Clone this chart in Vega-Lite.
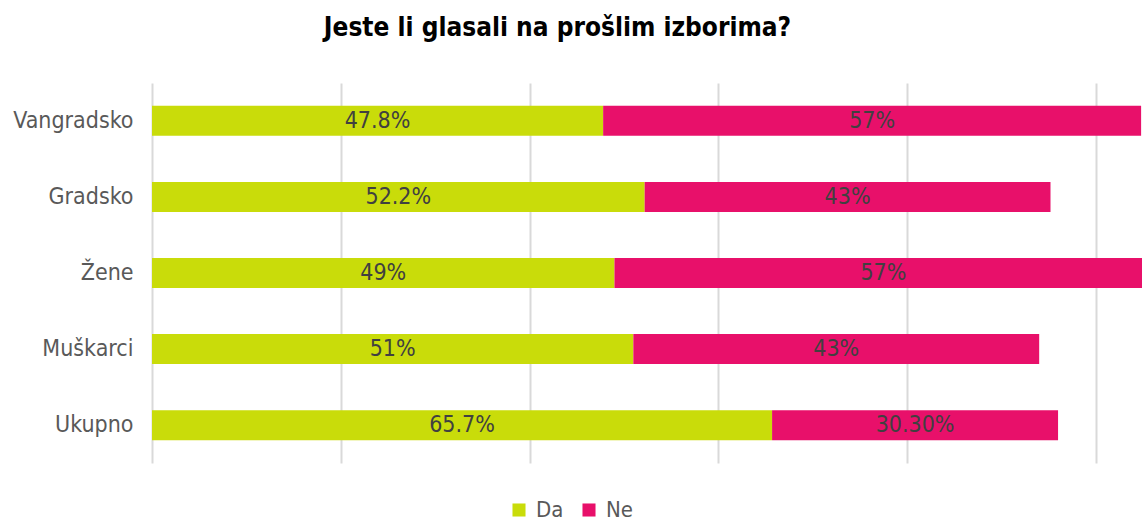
{
  "$schema": "https://vega.github.io/schema/vega-lite/v6.json",
  "autosize": {"type": "none"},
  "width": 991,
  "height": 380,
  "padding": {"left": 152, "top": 83, "right": 0, "bottom": 61},
  "background": "white",
  "title": {
    "text": "Jeste li glasali na prošlim izborima?",
    "font": "DejaVu Sans Condensed, Roboto, sans-serif",
    "fontSize": 26,
    "fontWeight": "bold",
    "color": "#000000",
    "anchor": "middle",
    "frame": "group",
    "dx": -90,
    "offset": 42
  },
  "data": {
    "values": [
      {"kategorija": "Vangradsko", "odgovor": "Da", "red": 1, "vrijednost": 47.8, "oznaka": "47.8%"},
      {"kategorija": "Vangradsko", "odgovor": "Ne", "red": 2, "vrijednost": 57, "oznaka": "57%"},
      {"kategorija": "Gradsko", "odgovor": "Da", "red": 1, "vrijednost": 52.2, "oznaka": "52.2%"},
      {"kategorija": "Gradsko", "odgovor": "Ne", "red": 2, "vrijednost": 43, "oznaka": "43%"},
      {"kategorija": "Žene", "odgovor": "Da", "red": 1, "vrijednost": 49, "oznaka": "49%"},
      {"kategorija": "Žene", "odgovor": "Ne", "red": 2, "vrijednost": 57, "oznaka": "57%"},
      {"kategorija": "Muškarci", "odgovor": "Da", "red": 1, "vrijednost": 51, "oznaka": "51%"},
      {"kategorija": "Muškarci", "odgovor": "Ne", "red": 2, "vrijednost": 43, "oznaka": "43%"},
      {"kategorija": "Ukupno", "odgovor": "Da", "red": 1, "vrijednost": 65.7, "oznaka": "65.7%"},
      {"kategorija": "Ukupno", "odgovor": "Ne", "red": 2, "vrijednost": 30.3, "oznaka": "30.30%"}
    ]
  },
  "encoding": {
    "y": {
      "field": "kategorija",
      "type": "nominal",
      "sort": ["Vangradsko", "Gradsko", "Žene", "Muškarci", "Ukupno"],
      "scale": {"paddingInner": 0.605, "paddingOuter": 0.3},
      "axis": {
        "title": null,
        "domain": false,
        "ticks": false,
        "labelFont": "DejaVu Sans Condensed, Roboto, sans-serif",
        "labelFontSize": 23,
        "labelColor": "#595959",
        "labelPadding": 19
      }
    },
    "x": {
      "field": "vrijednost",
      "type": "quantitative",
      "stack": "zero",
      "scale": {"domain": [0, 105], "nice": false},
      "axis": {
        "title": null,
        "values": [0, 20, 40, 60, 80, 100],
        "labels": false,
        "ticks": false,
        "domain": false,
        "grid": true,
        "gridColor": "#d9d9d9",
        "gridWidth": 2
      }
    },
    "order": {"field": "red", "type": "quantitative"}
  },
  "layer": [
    {
      "mark": {"type": "bar", "clip": true},
      "encoding": {
        "color": {
          "field": "odgovor",
          "type": "nominal",
          "scale": {"domain": ["Da", "Ne"], "range": ["#c9dc0a", "#e8106a"]},
          "legend": {
            "title": null,
            "orient": "none",
            "legendX": 356,
            "legendY": 416,
            "direction": "horizontal",
            "symbolType": "square",
            "symbolSize": 170,
            "symbolStrokeWidth": 0,
            "labelFont": "DejaVu Sans Condensed, Roboto, sans-serif",
            "labelFontSize": 22,
            "labelColor": "#595959",
            "columnPadding": 14,
            "labelOffset": 6
          }
        }
      }
    },
    {
      "mark": {
        "type": "text",
        "font": "DejaVu Sans Condensed, Roboto, sans-serif",
        "fontSize": 23,
        "color": "#404040",
        "align": "center",
        "baseline": "middle"
      },
      "encoding": {
        "x": {"field": "vrijednost", "type": "quantitative", "stack": "zero", "bandPosition": 0.5},
        "text": {"field": "oznaka", "type": "nominal"}
      }
    }
  ],
  "config": {"view": {"stroke": null}}
}
